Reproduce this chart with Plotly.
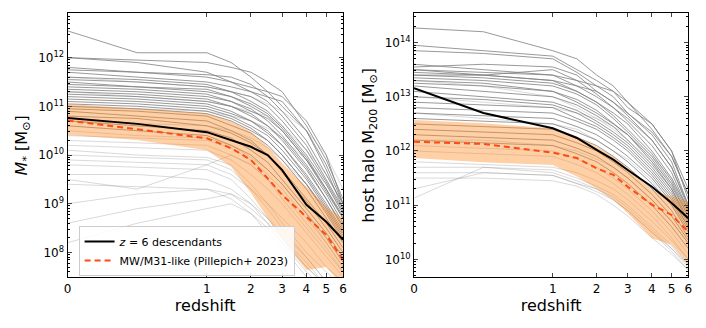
import numpy as np
import plotly.graph_objects as go

# redshift grid shared by all tracks
z = [0, 0.5, 1, 1.5, 2, 2.5, 3, 4, 5, 6]
z_ticks = [0, 1, 2, 3, 4, 5, 6]
mstar_exp = [8, 9, 10, 11, 12]
m200_exp = [10, 11, 12, 13, 14]

# left panel: log10 stellar mass
mstar_desc = [10.76, 10.64, 10.47, 10.31, 10.17, 10.0, 9.69, 8.98, 8.63, 8.26]
mstar_mw = [10.71, 10.52, 10.345, 10.14, 9.90, 9.52, 9.18, 8.73, 8.36, 7.85]
mstar_mw_hi = [11.05, 10.96, 10.86, 10.69, 10.48, 10.17, 9.83, 9.35, 8.94, 8.7]
mstar_mw_lo = [10.41, 10.31, 10.10, 9.76, 9.22, 8.71, 8.26, 7.64, 7.70, 7.3]

mstar_dark = [
    [12.55, 12.1, 12.1, 11.9, 11.6, 11.3, 11.0, 10.5, 9.8, 9.0],
    [12.0, 11.95, 11.9, 11.8, 11.7, 11.5, 11.3, 10.6, 9.9, 9.1],
    [11.75, 11.7, 11.65, 11.6, 11.45, 11.2, 10.9, 10.3, 9.6, 9.0],
    [11.7, 11.6, 11.5, 11.4, 11.3, 11.1, 10.8, 10.2, 9.5, 8.9],
    [11.6, 11.55, 11.45, 11.3, 11.1, 10.9, 10.6, 10.0, 9.4, 8.8],
    [11.55, 11.5, 11.4, 11.3, 11.2, 11.0, 10.7, 10.1, 9.45, 8.85],
    [11.5, 11.4, 11.3, 11.2, 11.0, 10.8, 10.5, 9.9, 9.3, 8.7],
    [11.45, 11.4, 11.35, 11.2, 11.05, 10.85, 10.55, 9.95, 9.3, 8.75],
    [11.4, 11.35, 11.25, 11.1, 10.95, 10.7, 10.4, 9.8, 9.2, 8.6],
    [11.35, 11.3, 11.2, 11.1, 10.9, 10.75, 10.5, 9.9, 9.25, 8.7],
    [11.3, 11.25, 11.15, 11.0, 10.85, 10.6, 10.3, 9.7, 9.1, 8.55],
    [11.25, 11.2, 11.1, 11.0, 10.8, 10.6, 10.35, 9.75, 9.1, 8.5],
    [11.2, 11.15, 11.05, 10.9, 10.7, 10.5, 10.2, 9.6, 9.0, 8.45],
    [11.15, 11.1, 11.0, 10.85, 10.7, 10.45, 10.2, 9.55, 8.95, 8.4],
    [11.1, 11.05, 10.95, 10.8, 10.6, 10.4, 10.1, 9.5, 8.9, 8.35],
    [11.05, 11.0, 10.9, 10.75, 10.55, 10.3, 10.0, 9.4, 8.85, 8.3],
    [11.0, 10.95, 10.85, 10.7, 10.5, 10.3, 10.0, 9.4, 8.8, 8.25],
    [10.95, 10.9, 10.8, 10.6, 10.45, 10.2, 9.9, 9.3, 8.7, 8.2],
    [11.8, 11.7, 11.6, 11.5, 11.4, 11.3, 11.2, 10.7, 10.0, 9.0],
    [12.0, 11.9, 11.7, 11.5, 11.3, 11.2, 11.1, 10.5, 9.7, 8.9],
    [10.9, 10.8, 10.7, 10.5, 10.3, 10.0, 9.7, 9.1, 8.6, 8.1],
    [10.8, 10.75, 10.6, 10.45, 10.25, 10.0, 9.65, 9.05, 8.5, 8.0],
    [10.7, 10.6, 10.5, 10.35, 10.1, 9.85, 9.5, 8.9, 8.4, 7.9],
    [10.6, 10.5, 10.4, 10.2, 10.0, 9.7, 9.4, 8.8, 8.3, 7.8],
]
mstar_light = [
    [10.3, 10.25, 10.2, 10.0, 9.8, 9.5, 9.2, 8.6, 8.1, 7.6],
    [10.2, 10.15, 10.1, 9.9, 9.6, 9.3, 9.0, 8.4, 7.9, 7.5],
    [10.1, 10.0, 9.95, 9.8, 9.4, 9.0, 8.7, 8.2, 7.7, 7.4],
    [10.0, 9.95, 9.9, 9.7, 9.3, 9.0, 8.6, 8.0, 7.6, 7.3],
    [9.9, 9.85, 9.8, 9.6, 9.3, 8.9, 8.5, 7.9, 7.4, 7.2],
    [9.8, 9.75, 9.7, 9.5, 9.1, 8.7, 8.3, 7.7, 7.3, 7.0],
    [9.6, 9.6, 9.5, 9.3, 9.0, 8.6, 8.2, 7.6, 7.2, 7.0],
    [9.4, 9.35, 9.3, 9.1, 8.8, 8.4, 8.1, 7.5, 7.1, 6.9],
    [9.0, 9.2, 9.3, 9.2, 8.9, 8.6, 8.3, 7.8, 7.3, 7.0],
    [8.6, 8.9, 9.1, 9.2, 9.0, 8.7, 8.4, 7.9, 7.4, 7.1],
    [8.2, 8.6, 8.9, 9.0, 8.8, 8.5, 8.2, 7.7, 7.3, 7.0],
    [10.4, 10.35, 10.3, 10.15, 9.9, 9.6, 9.3, 8.7, 8.2, 7.7],
    [11.6, 11.5, 11.4, 11.3, 11.2, 11.05, 10.9, 10.5, 10.0, 9.3],
    [11.3, 11.2, 11.1, 11.0, 10.9, 10.8, 10.6, 10.1, 9.6, 9.0],
    [11.0, 10.95, 10.9, 10.8, 10.7, 10.55, 10.35, 9.9, 9.4, 8.8],
    [10.7, 10.65, 10.6, 10.5, 10.35, 10.15, 9.9, 9.4, 8.9, 8.4],
    [9.5, 9.3, 9.8, 10.0, 9.8, 9.5, 9.1, 8.5, 8.0, 7.6],
    [10.5, 10.4, 10.35, 10.2, 9.95, 9.7, 9.4, 8.8, 8.2, 7.7],
]

# right panel: log10 host halo M200
m200_desc = [13.16, 12.70, 12.42, 12.24, 12.02, 11.84, 11.65, 11.34, 11.04, 10.76]
m200_mw = [12.17, 12.13, 11.97, 11.87, 11.68, 11.56, 11.34, 11.01, 10.82, 10.51]
m200_mw_hi = [12.57, 12.51, 12.42, 12.27, 12.08, 11.90, 11.68, 11.28, 11.16, 11.07]
m200_mw_lo = [11.87, 11.79, 11.74, 11.53, 11.31, 11.10, 10.85, 10.39, 10.27, 9.90]

m200_dark = [
    [14.27, 14.2, 13.85, 13.7, 13.4, 13.2, 12.9, 12.4, 11.9, 11.2],
    [13.95, 13.85, 13.75, 13.5, 13.3, 13.1, 12.8, 12.5, 12.0, 11.1],
    [13.85, 13.8, 13.7, 13.45, 13.2, 13.0, 12.7, 12.3, 11.8, 11.0],
    [13.55, 13.6, 13.55, 13.4, 13.1, 12.9, 12.65, 12.2, 11.7, 11.0],
    [13.5, 13.45, 13.4, 13.3, 13.05, 12.8, 12.55, 12.1, 11.6, 10.9],
    [13.5, 13.4, 13.3, 13.2, 13.0, 12.8, 12.6, 12.2, 11.7, 10.95],
    [13.45, 13.4, 13.3, 13.1, 12.9, 12.7, 12.5, 12.0, 11.5, 10.9],
    [13.4, 13.35, 13.25, 13.1, 12.9, 12.65, 12.4, 11.95, 11.45, 10.85],
    [13.35, 13.3, 13.2, 13.05, 12.85, 12.6, 12.35, 11.9, 11.4, 10.8],
    [13.3, 13.25, 13.1, 12.95, 12.75, 12.5, 12.3, 11.85, 11.35, 10.8],
    [13.25, 13.2, 13.1, 12.9, 12.7, 12.5, 12.3, 11.8, 11.3, 10.75],
    [13.2, 13.1, 13.0, 12.85, 12.65, 12.45, 12.2, 11.75, 11.3, 10.7],
    [13.1, 13.0, 12.9, 12.75, 12.55, 12.35, 12.15, 11.7, 11.25, 10.7],
    [13.0, 12.95, 12.85, 12.7, 12.5, 12.3, 12.1, 11.65, 11.2, 10.65],
    [12.9, 12.85, 12.8, 12.6, 12.45, 12.25, 12.05, 11.6, 11.15, 10.6],
    [12.8, 12.75, 12.7, 12.55, 12.4, 12.2, 12.0, 11.55, 11.1, 10.6],
    [12.7, 12.65, 12.6, 12.45, 12.3, 12.1, 11.9, 11.5, 11.05, 10.55],
    [12.6, 12.55, 12.5, 12.35, 12.2, 12.0, 11.8, 11.4, 11.0, 10.5],
    [13.4, 13.4, 13.5, 13.3, 13.2, 13.1, 12.9, 12.5, 12.0, 11.3],
    [13.6, 13.5, 13.4, 13.2, 13.1, 12.9, 12.7, 12.35, 11.9, 11.2],
    [12.5, 12.45, 12.4, 12.25, 12.1, 11.9, 11.7, 11.3, 10.9, 10.4],
    [12.4, 12.35, 12.3, 12.15, 12.0, 11.8, 11.6, 11.2, 10.8, 10.35],
    [12.3, 12.25, 12.2, 12.05, 11.9, 11.7, 11.5, 11.1, 10.7, 10.3],
    [12.2, 12.15, 12.1, 11.95, 11.8, 11.6, 11.4, 11.0, 10.6, 10.2],
]
m200_light = [
    [12.1, 12.05, 12.0, 11.85, 11.7, 11.5, 11.3, 10.9, 10.5, 10.1],
    [12.0, 11.95, 11.9, 11.75, 11.6, 11.4, 11.2, 10.8, 10.4, 10.0],
    [11.8, 11.75, 11.7, 11.6, 11.45, 11.3, 11.1, 10.7, 10.35, 10.0],
    [11.7, 11.7, 11.65, 11.5, 11.35, 11.2, 11.0, 10.6, 10.25, 9.9],
    [11.6, 11.6, 11.55, 11.4, 11.25, 11.1, 10.9, 10.5, 10.2, 9.85],
    [11.13, 11.7, 11.6, 11.45, 11.3, 11.1, 10.9, 10.5, 10.15, 9.8],
    [11.5, 11.5, 11.45, 11.35, 11.2, 11.0, 10.8, 10.4, 10.1, 9.8],
    [13.0, 12.9, 12.8, 12.7, 12.6, 12.45, 12.3, 11.9, 11.5, 10.9],
    [13.3, 13.2, 13.0, 12.8, 12.6, 12.4, 12.2, 11.8, 11.4, 10.8],
    [12.7, 12.6, 12.5, 12.4, 12.2, 12.0, 11.85, 11.45, 11.0, 10.5],
    [11.3, 11.6, 11.55, 11.4, 11.3, 11.15, 10.95, 10.55, 10.2, 9.9],
    [12.2, 12.2, 12.1, 12.0, 11.85, 11.7, 11.5, 11.1, 10.7, 10.3],
]


def zx(zz):
    # stretched redshift axis: linear up to z=1, log(1+z) beyond
    zz = np.asarray(zz, dtype=float)
    return np.where(zz <= 1, 0.557 * zz, 0.557 + np.log10((1 + zz) / 2))


def m(v):
    return 10 ** np.asarray(v, dtype=float)


def minor_vals(lo, hi):
    return [k * 10.0 ** e for e in range(lo, hi) for k in range(2, 10)]


xz = zx(z)
fig = go.Figure()

panels = [
    ('x', 'y', mstar_dark, mstar_light, mstar_desc, mstar_mw, mstar_mw_hi, mstar_mw_lo),
    ('x2', 'y2', m200_dark, m200_light, m200_desc, m200_mw, m200_mw_hi, m200_mw_lo),
]
for i, (xa, ya, dark, light, desc, mw, hi, lo) in enumerate(panels):
    for tr in light:
        fig.add_trace(go.Scatter(x=xz, y=m(tr), mode='lines', xaxis=xa, yaxis=ya,
                                 line=dict(color='rgba(128,128,128,0.3)', width=1),
                                 showlegend=False, hoverinfo='skip'))
    for tr in dark:
        fig.add_trace(go.Scatter(x=xz, y=m(tr), mode='lines', xaxis=xa, yaxis=ya,
                                 line=dict(color='rgba(128,128,128,0.8)', width=1),
                                 showlegend=False, hoverinfo='skip'))
    fig.add_trace(go.Scatter(x=xz, y=m(lo), mode='lines', xaxis=xa, yaxis=ya,
                             line=dict(width=0), showlegend=False, hoverinfo='skip'))
    fig.add_trace(go.Scatter(x=xz, y=m(hi), mode='lines', xaxis=xa, yaxis=ya,
                             line=dict(width=0), fill='tonexty',
                             fillcolor='rgba(255,140,40,0.42)',
                             showlegend=False, hoverinfo='skip'))
    fig.add_trace(go.Scatter(x=xz, y=m(desc), mode='lines', xaxis=xa, yaxis=ya,
                             line=dict(color='black', width=2),
                             name='<i>z</i> = 6 descendants', showlegend=(i == 0)))
    fig.add_trace(go.Scatter(x=xz, y=m(mw), mode='lines', xaxis=xa, yaxis=ya,
                             line=dict(color='#ff4a12', width=2, dash='6px,4px'),
                             name='MW/M31-like (Pillepich+ 2023)', showlegend=(i == 0)))

font = dict(family='DejaVu Sans', size=12, color='black')
xcommon = dict(range=[0, float(zx(6))], tickvals=list(zx(z_ticks)),
               ticktext=[str(t) for t in z_ticks], ticks='inside', ticklen=4,
               showline=True, linecolor='black', linewidth=1, mirror='ticks',
               showgrid=False, zeroline=False, tickfont=font, automargin=False,
               title=dict(text='redshift', font=dict(family='DejaVu Sans', size=16), standoff=2))
ycommon = dict(type='log', tickmode='array', ticks='inside', ticklen=4,
               showline=True, linecolor='black', linewidth=1, mirror='ticks',
               showgrid=False, zeroline=False, tickfont=font, automargin=False)


def ylog(exps):
    return dict(tickvals=[10.0 ** e for e in exps],
                ticktext=['10<sup>%d</sup>' % e for e in exps],
                minor=dict(ticks='inside', ticklen=2, tickmode='array',
                           tickvals=minor_vals(exps[0] - 1, exps[-1] + 1),
                           tickcolor='black', showgrid=False))


# the page body adds an 8px offset, so the domains are set 8px up/left
fig.update_layout(
    width=706, height=328,
    margin=dict(l=0, r=0, t=0, b=0),
    plot_bgcolor='white', paper_bgcolor='white',
    font=font,
    xaxis=dict(xcommon, domain=[0.0843, 0.4745], anchor='y'),
    yaxis=dict(ycommon, **ylog(mstar_exp), domain=[0.179, 0.9838], anchor='x',
               range=[7.49, 12.91],
               title=dict(text='<i>M</i><sub>*</sub> [M<sub>⊙</sub>]',
                          font=dict(family='DejaVu Sans', size=16), standoff=6)),
    xaxis2=dict(xcommon, domain=[0.5751, 0.9636], anchor='y2'),
    yaxis2=dict(ycommon, **ylog(m200_exp), domain=[0.179, 0.9838], anchor='x2',
                range=[9.67, 14.54],
                title=dict(text='host halo M<sub>200</sub> [M<sub>⊙</sub>]',
                           font=dict(family='DejaVu Sans', size=16), standoff=6)),
    legend=dict(x=0.1, y=0.335, xanchor='left', yanchor='top', traceorder='normal',
                bgcolor='rgba(255,255,255,0.85)', bordercolor='#cccccc', borderwidth=1,
                font=dict(family='DejaVu Sans', size=11), tracegroupgap=0,
                itemwidth=30),
)

fig.write_html("out.html")
